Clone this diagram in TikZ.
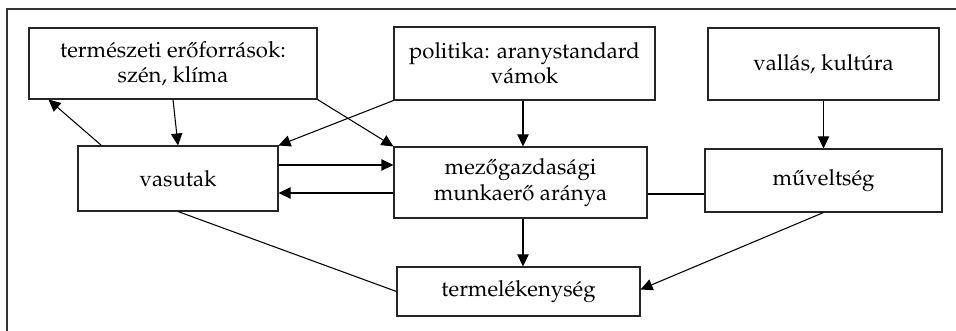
\documentclass[tikz,border=0pt]{standalone}
\usepackage[T1]{fontenc}
\usepackage{mathpazo}
\usetikzlibrary{arrows.meta,calc}
\begin{document}
\begin{tikzpicture}[x=0.75pt,y=-0.75pt,
  box/.style={draw=black!85,line width=0.8pt,rectangle,align=center,inner sep=0pt,
    font=\fontsize{16.6}{19}\selectfont},
  arr/.style={line width=0.8pt,-{Triangle[length=9pt,width=8.5pt]}},
  ln/.style={line width=0.8pt}]
\useasboundingbox (0,0) rectangle (956,331);
\draw[line width=0.8pt,black!80] (7,331) -- (7,9) -- (956,9);
\node[box,minimum width=288*0.75pt,minimum height=71*0.75pt] (ter) at (173,63.5) {természeti er\H{o}források:\\szén, klíma};
\node[box,minimum width=261*0.75pt,minimum height=73*0.75pt] (pol) at (524.5,63.5) {politika: aranystandard\\vámok};
\node[box,minimum width=231*0.75pt,minimum height=72*0.75pt] (val) at (823.5,64) {vallás, kultúra};
\node[box,minimum width=200*0.75pt,minimum height=65*0.75pt] (vas) at (178,178.5) {vasutak};
\node[box,minimum width=253*0.75pt,minimum height=71*0.75pt] (mez) at (520.5,182.5) {mez\H{o}gazdasági\\munkaer\H{o} aránya};
\node[box,minimum width=237*0.75pt,minimum height=63*0.75pt] (muv) at (823.5,180.5) {m\H{u}veltség};
\node[box,minimum width=243*0.75pt,minimum height=49*0.75pt] (term) at (518.5,291.5) {termelékenység};
% connectors
\draw[arr] ($(vas.north west)+(24,0)$) -- ($(ter.south west)+(20,0)$);
\draw[arr] (ter.south) -- (vas.north);
\draw[arr] (ter.south east) -- (mez.north west);
\draw[arr] (pol.south west) -- (vas.north east);
\coordinate (a0) at ($(pol.south)+(-1.5,0)$);
\draw[arr] (a0) -- (a0 |- mez.north);
\coordinate (a1) at ($(vas.east)+(0,-13.5)$);
\draw[arr] (a1) -- (a1 -| mez.west);
\coordinate (a2) at ($(mez.west)+(0,10.5)$);
\draw[arr] (a2) -- (a2 -| vas.east);
\coordinate (a3) at ($(mez.east)+(0,11.5)$);
\draw[ln] (a3) -- (a3 -| muv.west);
\draw[arr] (val.south) -- (muv.north);
\coordinate (a4) at ($(mez.south)+(2.5,0)$);
\draw[arr] (a4) -- (a4 |- term.north);
\draw[ln] (vas.south) -- (term.west);
\draw[arr] (muv.south) -- ($(term.east)+(0,-2)$);
\end{tikzpicture}
\end{document}
